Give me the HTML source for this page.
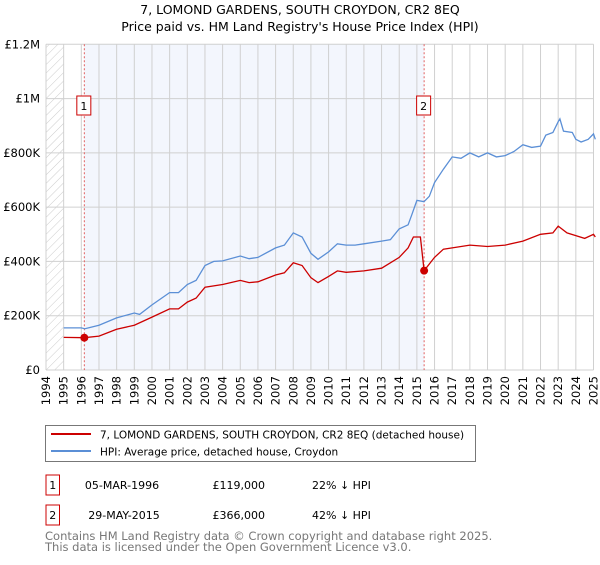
<!DOCTYPE html>
<html><head><meta charset="utf-8"><style>
body{margin:0;background:#fff;font-family:"Liberation Sans","DejaVu Sans",sans-serif;}
svg text{font-family:"DejaVu Sans","Liberation Sans",sans-serif;}
</style></head><body>
<svg id="c" width="600" height="560" xmlns="http://www.w3.org/2000/svg">
<defs><pattern id="hatch" width="6" height="6" patternUnits="userSpaceOnUse" patternTransform="rotate(45)"><line x1="0" y1="0" x2="0" y2="6" stroke="#ccc" stroke-width="1"/></pattern></defs>
<text x="300" y="14" text-anchor="middle" font-size="12.5" fill="#000">7, LOMOND GARDENS, SOUTH CROYDON, CR2 8EQ</text>
<text x="300" y="31" text-anchor="middle" font-size="12.5" fill="#000">Price paid vs. HM Land Registry's House Price Index (HPI)</text>
<g id="plot"></g>
<g>
<rect x="45.5" y="425.5" width="430" height="36" fill="#fff" stroke="#777"/>
<line x1="51" y1="434" x2="91" y2="434" stroke="#cc0000" stroke-width="2"/>
<text x="100" y="438.5" font-size="10.5">7, LOMOND GARDENS, SOUTH CROYDON, CR2 8EQ (detached house)</text>
<line x1="51" y1="451" x2="91" y2="451" stroke="#5b8fd6" stroke-width="2"/>
<text x="100" y="455.5" font-size="10.5">HPI: Average price, detached house, Croydon</text>
</g>
<g font-size="11">
<rect x="46" y="475" width="13.5" height="20" fill="#fff" stroke="#cc0000"/>
<text x="52.7" y="489" text-anchor="middle">1</text>
<text x="122" y="489" text-anchor="middle">05-MAR-1996</text>
<text x="265" y="489" text-anchor="end">£119,000</text>
<text x="312" y="489">22% ↓ HPI</text>
<rect x="46" y="505" width="13.5" height="20" fill="#fff" stroke="#cc0000"/>
<text x="52.7" y="519" text-anchor="middle">2</text>
<text x="124" y="519" text-anchor="middle">29-MAY-2015</text>
<text x="265" y="519" text-anchor="end">£366,000</text>
<text x="312" y="519">42% ↓ HPI</text>
</g>
<text x="45" y="540" font-size="11.5" fill="#777">Contains HM Land Registry data © Crown copyright and database right 2025.</text>
<text x="45" y="551" font-size="11.5" fill="#777">This data is licensed under the Open Government Licence v3.0.</text>
</svg>
<script>
const hpiYears=[1995,1996,1996.2,1997,1998,1999,1999.3,2000,2001,2001.5,2002,2002.5,2003,2003.5,2004,2005,2005.5,2006,2007,2007.5,2008,2008.5,2009,2009.4,2010,2010.5,2011,2011.5,2012,2013,2013.5,2014,2014.5,2014.7,2015,2015.4,2015.7,2016,2016.5,2017,2017.5,2018,2018.5,2019,2019.5,2020,2020.5,2021,2021.5,2022,2022.3,2022.7,2023,2023.1,2023.3,2023.8,2024,2024.3,2024.7,2025,2025.1];
const hpiValues=[155,155,152,165,192,210,205,240,285,285,315,330,385,400,402,420,410,415,450,460,505,490,430,408,435,465,460,460,465,475,480,520,535,570,625,620,640,690,740,785,780,800,785,800,785,790,805,830,820,825,865,875,915,925,880,875,850,840,850,870,850];
const priceYears=[1995,1996.17,1997,1998,1999,2000,2001,2001.5,2002,2002.5,2003,2004,2005,2005.5,2006,2007,2007.5,2008,2008.5,2009,2009.4,2010,2010.5,2011,2012,2013,2014,2014.5,2014.8,2015.2,2015.41,2016,2016.5,2017,2018,2019,2020,2021,2022,2022.7,2023,2023.5,2024,2024.5,2025,2025.1];
const priceValues=[120,119,125,150,165,195,225,225,250,265,305,315,330,322,325,350,358,395,385,340,322,345,365,360,365,375,415,450,490,490,366,415,445,450,460,455,460,475,500,505,530,505,495,485,500,490];
const sales=[{t:1996.17,v:119,label:"1"},{t:2015.41,v:366,label:"2"}];
const yTicks=[0,200,400,600,800,1000,1200];
const yTickLabels=["£0","£200K","£400K","£600K","£800K","£1M","£1.2M"];
const xMin=1994,xMax=2025,x0=46,x1=593.5,yTop=44.3,yBot=370,vMax=1200;
function X(t){return x0+(t-xMin)/(xMax-xMin)*(x1-x0);}
function Y(v){return yBot-v/vMax*(yBot-yTop);}
const ns="http://www.w3.org/2000/svg",g=document.getElementById('plot');
function mk(tag,a){const e=document.createElementNS(ns,tag);for(const k in a)e.setAttribute(k,a[k]);g.appendChild(e);return e;}
let e;
e=mk('rect',{x:X(1994),y:yTop,width:X(1995)-X(1994),height:yBot-yTop,fill:'url(#hatch)'});


e=mk('rect',{x:X(sales[0].t),y:yTop,width:X(sales[1].t)-X(sales[0].t),height:yBot-yTop,fill:'#f3f6fd'});


for(let yr=1994;yr<=2025;yr++){
 e=mk('line',{x1:X(yr),x2:X(yr),y1:yTop,y2:yBot,stroke:'#d0d0d0','stroke-width':1});
 
 
 e=mk('text',{x:0,y:0,'font-size':11.5,'text-anchor':'end',transform:`translate(${X(yr)+4},${yBot+6}) rotate(-90)`});
 e.textContent=yr;
 
 
}
yTicks.forEach((v,i)=>{
 e=mk('line',{x1:x0,x2:x1,y1:Y(v),y2:Y(v),stroke:'#d0d0d0','stroke-width':1});
 
 
 e=mk('text',{x:40,y:Y(v)+4,'font-size':11.5,'text-anchor':'end'});
 e.textContent=yTickLabels[i];
 
 
});
sales.forEach(s=>{
 e=mk('line',{x1:X(s.t),x2:X(s.t),y1:yTop,y2:yBot,stroke:'#e06060','stroke-width':1,'stroke-dasharray':'2,2'});
 
 
});
function path(xs,vs){return xs.map((t,i)=>(i?'L':'M')+X(t).toFixed(1)+','+Y(vs[i]).toFixed(1)).join('');}
e=mk('path',{d:path(hpiYears,hpiValues),fill:'none',stroke:'#5b8fd6','stroke-width':1.3});


e=mk('path',{d:path(priceYears,priceValues),fill:'none',stroke:'#cc0000','stroke-width':1.3});


sales.forEach(s=>{
 e=mk('circle',{cx:X(s.t),cy:Y(s.v),r:4,fill:'#cc0000'});
 
 
 e=mk('rect',{x:X(s.t)-7.5,y:96,width:14,height:19,fill:'#fff',stroke:'#cc0000'});
 
 
 e=mk('text',{x:X(s.t)-0.5,y:110,'font-size':11,'text-anchor':'middle'});
 e.textContent=s.label;
 
 
});
</script>
</body></html>
